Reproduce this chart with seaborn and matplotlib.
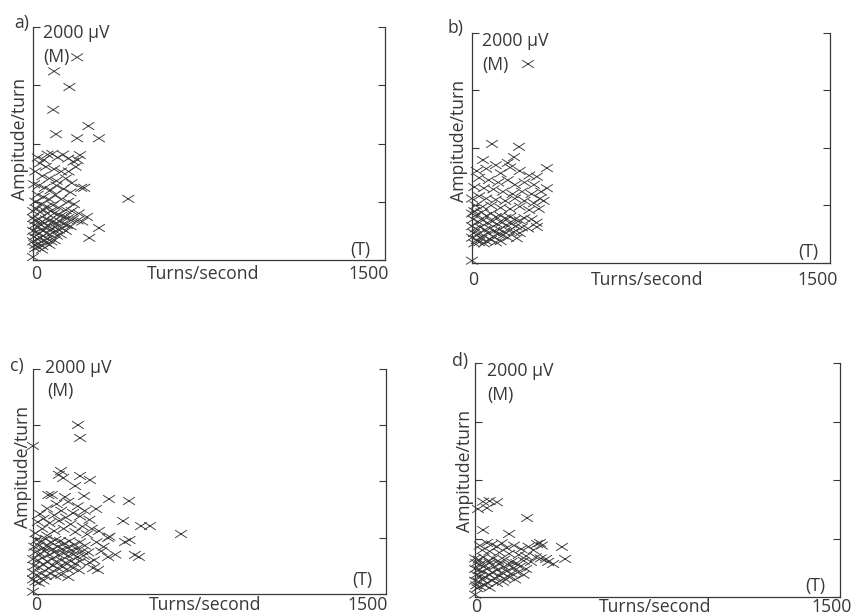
import matplotlib
matplotlib.use("Agg")
import matplotlib.pyplot as plt
from matplotlib.path import Path
import seaborn as sns

#turns/second and amplitude (uV)
a_turns = [188, 90, 155, 86, 98, 236, 188, 281, 406, 281,
           240, 200, 190, 205, 218, 230, 0, 20, 45, 62,
           82, 105, 128, 150, 172, 182, 30, 55, 90, 120,
           152, 10, 40, 70, 100, 140, 165, 5, 25, 50,
           75, 100, 130, 160, 20, 45, 70, 95, 120, 150,
           175, 10, 35, 60, 85, 110, 140, 165, 195, 0,
           15, 30, 45, 60, 75, 90, 105, 120, 135, 150,
           170, 190, 210, 0, 10, 25, 40, 55, 70, 85,
           100, 115, 130, 145, 160, 5, 20, 35, 50, 65,
           80, 95, 110, 125, 140, 0, 12, 28, 42, 58,
           72, 88, 102, 118, 5, 18, 32, 48, 62, 78,
           92, 0, 10, 25, 40, 55, 70, 8, 22, 38]
a_amp = [1740, 1620, 1485, 1290, 1080, 1150, 1045, 1045, 525, 275,
         190, 900, 860, 620, 620, 370, 25, 880, 860, 905,
         910, 880, 905, 870, 845, 800, 830, 800, 780, 760,
         760, 760, 720, 700, 680, 700, 660, 650, 640, 620,
         600, 640, 610, 580, 560, 540, 520, 560, 520, 500,
         480, 500, 480, 460, 470, 450, 430, 420, 400, 420,
         440, 410, 430, 400, 420, 400, 390, 380, 370, 360,
         350, 340, 330, 360, 340, 350, 330, 350, 340, 330,
         320, 330, 310, 300, 290, 300, 290, 300, 280, 290,
         270, 280, 260, 270, 250, 250, 240, 230, 250, 230,
         220, 240, 210, 220, 200, 180, 190, 170, 180, 160,
         170, 160, 130, 140, 120, 150, 130, 100, 110, 90]

b_turns = [235, 84, 197, 176, 46, 150, 160, 314, 272, 314, 285, 272, 188, 0,
           20, 60, 100, 120, 200, 240, 30, 70, 110, 150, 180, 220, 260, 10, 50, 90, 130, 170, 210, 250, 290,
           0, 30, 60, 100, 140, 180, 220, 260, 300, 15, 45, 80, 120, 160, 200, 240, 280, 10,
           0, 20, 40, 60, 80, 100, 120, 140, 160, 180, 200, 220, 250, 270,
           5, 25, 45, 65, 85, 105, 125, 145, 165, 185, 210, 235,
           0, 15, 35, 55, 75, 95, 115, 135, 155, 175, 200,
           8, 28, 48, 68, 88, 108, 128, 150,
           0, 20, 40, 60, 80, 100, 120,
           10, 30, 50]
b_amp = [1730, 1035, 1010, 920, 895, 870, 830, 825, 750, 650, 560, 313, 215, 20,
         800, 820, 850, 780, 800, 760, 740, 720, 700, 720, 680, 700, 680, 660, 650, 640, 620, 600, 620, 600, 620,
         560, 580, 560, 550, 540, 560, 540, 520, 540, 500, 490, 500, 480, 470, 490, 460, 470, 450,
         430, 420, 440, 410, 430, 400, 410, 390, 400, 380, 370, 390, 380, 350,
         380, 360, 370, 350, 360, 340, 350, 330, 340, 320, 310, 300,
         320, 300, 310, 290, 300, 280, 290, 270, 280, 270, 260,
         260, 250, 240, 260, 230, 250, 240, 220,
         220, 200, 210, 190, 200, 180, 190,
         170, 180, 170]

c_turns = [191, 200, 0, 119, 128, 110, 200, 242, 179, 65, 80, 217, 136, 323, 408, 268, 383,
           459, 497, 629, 30, 45, 319, 325, 391, 410, 433, 450, 319, 350, 276, 255, 0,
           100, 150, 190, 60, 120, 170, 220, 90, 140, 200, 240, 20, 70, 110, 160,
           210, 250, 40, 90, 130, 180, 230, 280, 10, 60, 270, 300, 290, 260, 240,
           15, 35, 55, 75, 95, 115, 135, 155, 175, 200, 220,
           5, 25, 45, 65, 85, 105, 125, 145, 165, 185, 210, 235,
           10, 30, 50, 70, 90, 110, 130, 150, 170, 190, 215,
           0, 20, 40, 60, 80, 100, 120, 140, 160, 180, 200,
           5, 25, 45, 65, 85, 105, 125, 145, 170, 195,
           0, 15, 35, 55, 75, 95, 120, 150,
           0, 10, 25, 45]
c_amp = [1502, 1387, 1316, 1093, 1031, 1060, 1049, 1013, 960, 880, 880, 871, 862, 844, 827, 756, 649,
         604, 604, 533, 711, 670, 498, 510, 462, 480, 347, 330, 329, 350, 213, 230, 20,
         800, 820, 780, 760, 740, 720, 740, 700, 680, 690, 660, 640, 630, 650, 620,
         600, 580, 580, 560, 580, 550, 530, 560, 540, 520, 460, 420, 380, 300, 280,
         480, 470, 490, 460, 480, 470, 450, 470, 440, 460, 430,
         420, 430, 410, 420, 400, 420, 400, 410, 390, 400, 380, 370,
         370, 360, 380, 350, 370, 350, 360, 340, 350, 330, 340,
         310, 300, 320, 290, 310, 290, 300, 280, 290, 270, 290,
         250, 240, 260, 230, 250, 230, 240, 220, 230, 210,
         190, 170, 180, 160, 180, 160, 170, 150,
         130, 110, 100, 120]

d_turns = [33, 60, 90, 12, 49, 214, 33, 140, 267, 357, 370, 300, 255, 275, 292, 321, 49, 70, 0,
           20, 90, 110, 130, 160, 190, 220, 240, 30, 60, 100, 140, 180, 210, 250, 270, 200, 230,
           0, 15, 35, 55, 75, 95, 120, 150, 170,
           5, 20, 40, 60, 80, 100, 120, 140, 160, 185, 210,
           0, 15, 30, 50, 70, 90, 110, 130, 150, 175, 200,
           5, 20, 40, 60, 80, 100, 120, 140, 165,
           0, 15, 30, 50, 70, 90, 115,
           5, 20, 40, 60, 10]
d_amp = [815, 820, 810, 752, 760, 675, 573, 539, 462, 428, 325, 300, 453, 440, 325, 282, 462, 450, 20,
         440, 430, 460, 420, 440, 410, 430, 400, 400, 390, 380, 370, 360, 350, 340, 330, 310, 300,
         330, 320, 340, 310, 330, 310, 320, 300, 290,
         290, 280, 270, 290, 260, 280, 260, 270, 250, 260, 240,
         240, 230, 220, 240, 210, 230, 210, 220, 200, 210, 190,
         190, 180, 170, 190, 160, 180, 160, 170, 150,
         140, 130, 150, 120, 140, 120, 130,
         100, 90, 100, 80, 75]

sns.set_style("white")
plt.rcParams['font.family'] = ['Open Sans', 'DejaVu Sans']

ink = '#383838'
fsize = 12.7

#flattened x like the printed markers
cross = Path([(-1, -0.65), (1, 0.65), (-1, 0.65), (1, -0.65)],
             [Path.MOVETO, Path.LINETO, Path.MOVETO, Path.LINETO])

#label, data, axes rect, text spots in axes coords
panels = [
    ('a)', a_turns, a_amp, [0.0387, 0.5779, 0.4127, 0.3782],
     dict(tag=(-0.01, 1.017), uv=(0.028, 0.974), m=(0.028, 0.871), yl=(-0.037, 0.52),
          xl=(0.483, -0.06), zero=(0.008, -0.06), top=(1.01, -0.06), t=(0.93, 0.043))),
    ('b)', b_turns, b_amp, [0.5533, 0.5731, 0.4197, 0.3734],
     dict(tag=(-0.025, 1.02), uv=(0.028, 0.965), m=(0.028, 0.861), yl=(-0.036, 0.53),
          xl=(0.489, -0.074), zero=(0.003, -0.074), top=(1.022, -0.074), t=(0.94, 0.048))),
    ('c)', c_turns, c_amp, [0.0387, 0.0357, 0.4138, 0.3653],
     dict(tag=(-0.028, 1.013), uv=(0.034, 1.004), m=(0.04, 0.902), yl=(-0.028, 0.564),
          xl=(0.487, -0.048), zero=(0.008, -0.048), top=(1.006, -0.048), t=(0.932, 0.062))),
    ('d)', d_turns, d_amp, [0.5569, 0.0308, 0.4279, 0.3799],
     dict(tag=(-0.019, 1.009), uv=(0.033, 0.966), m=(0.033, 0.863), yl=(-0.027, 0.538),
          xl=(0.493, -0.043), zero=(0.003, -0.043), top=(1.033, -0.043), t=(0.932, 0.047))),
]

fig = plt.figure(figsize=(8.53, 6.16), dpi=100)

for tag, turns, amp, rect, pos in panels:
    ax = fig.add_axes(rect)
    sns.scatterplot(x=turns, y=amp, ax=ax, marker=cross, s=72, color=ink,
                    facecolor='none', edgecolor=ink, linewidth=0.65,
                    clip_on=False, legend=False)
    ax.set_xlim(0, 1500)
    ax.set_ylim(0, 2000)

    #axes frame: no top, ticks on both sides
    sns.despine(ax=ax, top=True, right=False, left=False, bottom=False)
    for side in ['left', 'right', 'bottom']:
        ax.spines[side].set_color(ink)
        ax.spines[side].set_linewidth(0.9)
    ax.set_xticks(range(0, 1501, 250))
    ax.set_yticks(range(0, 2001, 500))
    ax.set_xticklabels([])
    ax.set_yticklabels([])
    ax.tick_params(axis='x', direction='out', length=4, width=0.8, color=ink)
    ax.tick_params(axis='y', direction='in', left=True, right=True, length=5, width=0.8, color=ink)
    ax.set_xlabel('')
    ax.set_ylabel('')

    tr = ax.transAxes
    ax.text(*pos['tag'], tag, transform=tr, ha='right', va='center', fontsize=fsize, color=ink)
    ax.text(*pos['uv'], '2000 µV', transform=tr, ha='left', va='center', fontsize=fsize, color=ink)
    ax.text(*pos['m'], '(M)', transform=tr, ha='left', va='center', fontsize=fsize, color=ink)
    ax.text(*pos['yl'], 'Ampitude/turn', transform=tr, ha='center', va='center',
            rotation=90, fontsize=fsize, color=ink)
    ax.text(*pos['xl'], 'Turns/second', transform=tr, ha='center', va='center', fontsize=fsize, color=ink)
    ax.text(*pos['zero'], '0', transform=tr, ha='center', va='center', fontsize=fsize, color=ink)
    ax.text(*pos['top'], '1500', transform=tr, ha='right', va='center', fontsize=fsize, color=ink)
    ax.text(*pos['t'], '(T)', transform=tr, ha='center', va='center', fontsize=fsize, color=ink)

fig.savefig('out.png', dpi=100)
